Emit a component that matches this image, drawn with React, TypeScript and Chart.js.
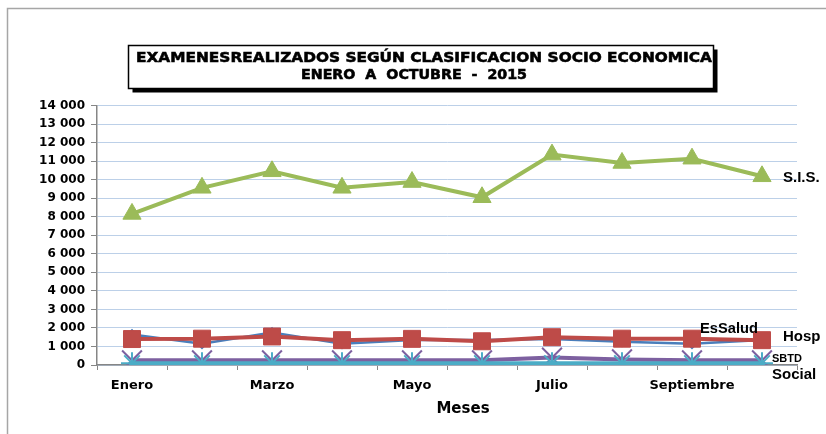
import React, { useEffect, useRef } from "react";
import { Chart, registerables } from "chart.js";

Chart.register(...registerables);

const months = ["Enero", "Febrero", "Marzo", "Abril", "Mayo", "Junio", "Julio", "Agosto", "Septiembre", "Octubre"];
const esSalud = [1650, 1150, 1750, 1150, 1350, 1350, 1400, 1250, 1150, 1350];
const hosp = [1400, 1420, 1540, 1340, 1410, 1280, 1500, 1420, 1420, 1340];
const sis = [8150, 9560, 10450, 9560, 9870, 9050, 11350, 10900, 11130, 10180];
const sbtd = [250, 250, 250, 250, 250, 250, 400, 300, 250, 250];
const social = [100, 100, 100, 100, 100, 100, 100, 100, 100, 100];
const yTicks = [0, 1000, 2000, 3000, 4000, 5000, 6000, 7000, 8000, 9000, 10000, 11000, 12000, 13000, 14000];

const titleLine1 = "EXAMENESREALIZADOS SEGÚN CLASIFICACION SOCIO ECONOMICA";
const titleLine2 = "ENERO  A  OCTUBRE  -  2015";
const axisTitle = "Meses";

const fmt = (v: number) => String(v).replace(/\B(?=(\d{3})+(?!\d))/g, " ");

const seriesLabels = [
  { ds: 0, text: "EsSalud", dx: -62, dy: -11, font: "bold 15px 'Liberation Sans'", max: 58 },
  { ds: 1, text: "Hosp", dx: 21, dy: -3, font: "bold 15px 'Liberation Sans'", max: 40 },
  { ds: 2, text: "S.I.S.", dx: 21, dy: 2, font: "bold 15px 'Liberation Sans'", max: 39 },
  { ds: 3, text: "SBTD", dx: 10, dy: -1, font: "bold 11px 'Liberation Sans'", max: 32 },
  { ds: 4, text: "Social", dx: 10, dy: 12, font: "bold 15px 'Liberation Sans'", max: 46 },
];

function stretchText(ctx: any, text: string, cx: number, cy: number, width: number) {
  const w = ctx.measureText(text).width;
  const k = width / w;
  ctx.save();
  ctx.translate(cx, cy);
  ctx.scale(k, 1);
  ctx.lineWidth = 0.6 / k;
  ctx.strokeStyle = "#000";
  ctx.fillText(text, 0, 0);
  ctx.strokeText(text, 0, 0);
  ctx.restore();
}

const decoPlugin = {
  id: "deco",
  beforeDraw(chart: any) {
    const ctx = chart.ctx;
    ctx.save();
    ctx.fillStyle = "#ffffff";
    ctx.fillRect(0, 0, chart.width, chart.height);
    ctx.strokeStyle = "#a6a6a6";
    ctx.lineWidth = 1.5;
    ctx.beginPath();
    ctx.moveTo(7.5, chart.height);
    ctx.lineTo(7.5, 8.5);
    ctx.lineTo(chart.width, 8.5);
    ctx.stroke();
    ctx.restore();
  },
  afterDraw(chart: any) {
    const ctx = chart.ctx;
    ctx.save();
    // title box with shadow
    const bx = 128.5, by = 45.5, bw = 585, bh = 43;
    ctx.fillStyle = "#000";
    ctx.fillRect(bx + 4, by + 4, bw, bh);
    ctx.fillStyle = "#fff";
    ctx.fillRect(bx, by, bw, bh);
    ctx.strokeStyle = "#000";
    ctx.lineWidth = 1.5;
    ctx.strokeRect(bx, by, bw, bh);
    ctx.fillStyle = "#000";
    ctx.textAlign = "center";
    ctx.textBaseline = "middle";
    ctx.font = "bold 13.5px 'DejaVu Sans'";
    stretchText(ctx, titleLine1, 424, 58.5, 576);
    stretchText(ctx, titleLine2, 414, 75, 226);
    // axis title
    ctx.font = "bold 15px 'DejaVu Sans'";
    ctx.fillText(axisTitle, 463, 409);
    // series labels
    ctx.textAlign = "left";
    for (const l of seriesLabels) {
      const meta = chart.getDatasetMeta(l.ds);
      const pt = meta.data[meta.data.length - 1];
      if (!pt) continue;
      ctx.font = l.font;
      ctx.fillText(l.text, pt.x + l.dx, pt.y + l.dy, l.max);
    }
    ctx.restore();
  },
};

export default function App() {
  const ref = useRef<HTMLCanvasElement>(null);
  useEffect(() => {
    if (!ref.current) return;
    const chart = new Chart(ref.current, {
      type: "line",
      data: {
        labels: months,
        datasets: [
          {
            label: "EsSalud",
            data: esSalud,
            borderColor: "#4a7ebb",
            backgroundColor: "#4a7ebb",
            borderWidth: 2.5,
            pointStyle: "rectRot",
            pointRadius: 4,
            order: 5,
          },
          {
            label: "Hosp",
            data: hosp,
            borderColor: "#be4b48",
            backgroundColor: "#be4b48",
            borderWidth: 4,
            pointStyle: "rect",
            pointRadius: 12,
            pointBorderWidth: 1,
            order: 4,
          },
          {
            label: "S.I.S.",
            data: sis,
            borderColor: "#9bbb59",
            backgroundColor: "#9bbb59",
            borderWidth: 4,
            pointStyle: "triangle",
            pointRadius: 10.5,
            pointBorderWidth: 1,
            order: 3,
          },
          {
            label: "SBTD",
            data: sbtd,
            borderColor: "#7d60a0",
            backgroundColor: "#7d60a0",
            borderWidth: 4,
            pointStyle: "crossRot",
            pointRadius: 14,
            pointBorderWidth: 2,
            order: 2,
          },
          {
            label: "Social",
            data: social,
            borderColor: "#4bacc6",
            backgroundColor: "#4bacc6",
            borderWidth: 4,
            pointStyle: "star",
            pointRadius: 11,
            pointBorderWidth: 2,
            order: 1,
          },
        ],
      },
      options: {
        responsive: false,
        animation: false,
        devicePixelRatio: 1,
        layout: { padding: { left: 0, top: 105.5, right: 29, bottom: 0 } },
        plugins: {
          legend: { display: false },
          tooltip: { enabled: false },
          title: { display: false },
        },
        elements: { line: { tension: 0 } },
        scales: {
          x: {
            offset: true,
            grid: {
              offset: true,
              drawOnChartArea: false,
              drawTicks: true,
              tickLength: 5,
              tickColor: "#868686",
            },
            border: { color: "#868686", width: 1.5 },
            ticks: {
              autoSkip: false,
              maxRotation: 0,
              padding: 8,
              color: "#000",
              font: { family: "'DejaVu Sans'", size: 13, weight: "bold" },
              callback: (_v: any, i: number) => (i % 2 === 0 ? months[i] : ""),
            },
            afterFit: (s: any) => {
              s.height = 69;
            },
          },
          y: {
            min: yTicks[0],
            max: yTicks[yTicks.length - 1],
            grid: {
              color: "#bcd0e8",
              lineWidth: 1,
              drawTicks: true,
              tickLength: 6,
              tickColor: "#868686",
            },
            border: { color: "#868686", width: 1.5 },
            afterBuildTicks: (s: any) => {
              s.ticks = yTicks.map((v) => ({ value: v }));
            },
            ticks: {
              padding: 6,
              color: "#000",
              font: { family: "'DejaVu Sans'", size: 12, weight: "bold" },
              callback: (v: any) => fmt(Number(v)),
            },
            afterFit: (s: any) => {
              s.width = 97;
            },
          },
        },
      },
      plugins: [decoPlugin],
    } as any);
    return () => chart.destroy();
  }, []);
  return (
    <div style={{ position: "fixed", left: 0, top: 0, width: 826, height: 434 }}>
      <canvas ref={ref} width={826} height={434} style={{ width: 826, height: 434, display: "block" }} />
    </div>
  );
}
